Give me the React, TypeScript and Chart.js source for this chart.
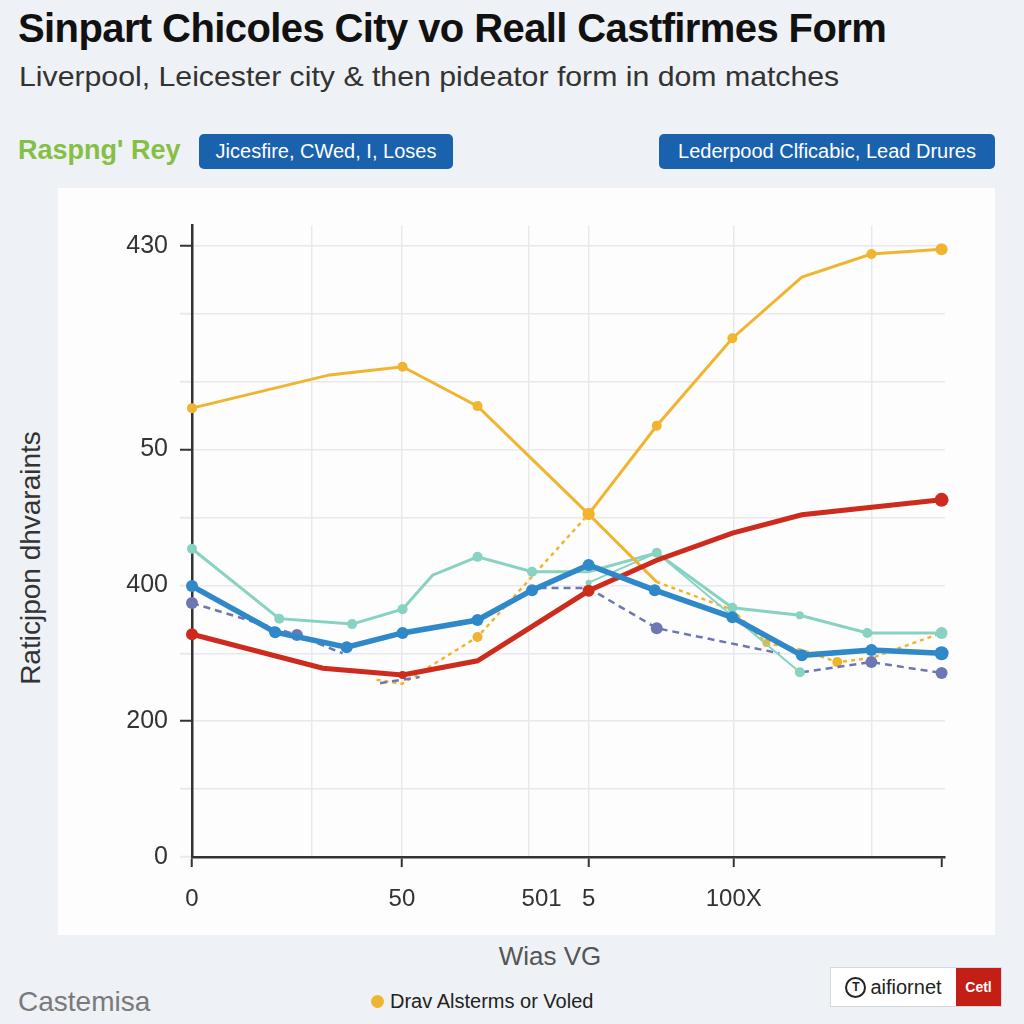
import React, { useEffect, useRef } from "react";
import { Chart, registerables } from "chart.js";

Chart.register(...registerables);

// ---------- data (x in match units, y in rating units) ----------
const orangeAX = [0, 2.02, 3.09, 4.19, 5.82, 6.82];
const orangeAY = [6.61, 7.1, 7.22, 6.64, 5.05, 4.05];
const orangeAR = [5, 0, 5, 5, 6, 0];

const orangeBX = [5.82, 6.82, 7.93, 8.95, 9.97, 11];
const orangeBY = [5.05, 6.35, 7.64, 8.54, 8.88, 8.95];
const orangeBR = [6, 5, 5, 0, 5, 6];

const orangeDotX = [2.71, 3.08, 4.19, 5.82, 6.82, 7.93, 8.43, 8.95, 9.47, 9.97, 11];
const orangeDotY = [2.61, 2.55, 3.24, 5.05, 4.05, 3.64, 3.15, 3.05, 2.87, 2.93, 3.3];
const orangeDotR = [0, 0, 5, 0, 0, 0, 4, 0, 5, 0, 0];

const redX = [0, 1.92, 3.09, 4.19, 5.82, 6.82, 7.93, 8.95, 11];
const redY = [3.28, 2.78, 2.68, 2.89, 3.92, 4.37, 4.77, 5.04, 5.26];
const redR = [6, 0, 4, 0, 6, 0, 0, 0, 7];

const tealX = [0, 1.28, 2.35, 3.09, 3.53, 4.19, 4.99, 5.82, 6.82, 7.93, 8.92, 9.91, 11];
const tealY = [4.54, 3.51, 3.43, 3.65, 4.15, 4.42, 4.2, 4.2, 4.48, 3.67, 3.56, 3.3, 3.3];
const tealR = [5, 5, 5, 5, 0, 5, 5, 0, 5, 5, 4, 5, 6];

const teal2X = [5.82, 6.82, 8.92];
const teal2Y = [4.04, 4.48, 2.72];
const teal2R = [3, 0, 5];

const blueX = [0, 1.22, 2.27, 3.09, 4.19, 4.99, 5.82, 6.79, 7.93, 8.95, 9.97, 11];
const blueY = [3.99, 3.31, 3.09, 3.3, 3.49, 3.93, 4.3, 3.93, 3.53, 2.97, 3.05, 3.0];
const blueR = [6, 6, 6, 6, 6, 6, 6, 6, 6, 6, 6, 7];

const purpleX = [0, 1.54, 2.21, 2.5, 2.76, 3.34, 4.5, 5.1, 5.82, 6.82, 8.62, 8.8, 8.95, 9.97, 11];
const purpleY: (number | null)[] = [3.74, 3.27, 3.0, null, 2.56, 2.65, null, 3.96, 3.96, 3.37, 3.0, null, 2.72, 2.87, 2.71];
const purpleR = [6, 6, 0, 0, 0, 0, 0, 0, 0, 6, 0, 0, 0, 6, 6];

const yTickValues = [0, 1, 2, 3, 4, 5, 6, 7, 8, 9];
const yTickLabels: Record<number, string> = { 0: "0", 2: "200", 4: "400", 6: "50", 9: "430" };

const xTickValues = [0, 1.76, 3.08, 4.94, 5.13, 5.82, 7.95, 9.97, 11];
const xTickLabels: Record<string, string> = { "0": "0", "3.08": "50", "5.13": "501", "5.82": "5", "7.95": "100X" };
const xGridValues = [1.76, 3.08, 4.94, 5.82, 7.95, 9.97];
const xTickMarkValues = [0, 3.08, 5.82, 7.95, 11];

const ORANGE = "#f1b42f";
const RED = "#cc2b1e";
const TEAL = "#87d2c1";
const BLUE = "#2f88c8";
const PURPLE = "#6d78b2";
const GRID = "#e7e9ec";
const AXIS = "#333333";

function pts(xs: number[], ys: (number | null)[]) {
  return xs.map((x, i) => ({ x, y: ys[i] }));
}

function ds(label: string, xs: number[], ys: (number | null)[], radii: number[], color: string, width: number, dash: number[] = [], order = 0) {
  return {
    label,
    data: pts(xs, ys),
    borderColor: color,
    backgroundColor: color,
    borderWidth: width,
    borderDash: dash,
    pointRadius: radii,
    pointBorderWidth: 0,
    pointBackgroundColor: color,
    tension: 0,
    spanGaps: false,
    clip: false as const,
    order,
  };
}

function LineChart() {
  const ref = useRef<HTMLCanvasElement | null>(null);
  useEffect(() => {
    if (!ref.current) return;
    const chart = new Chart(ref.current, {
      type: "line",
      data: {
        datasets: [
          ds("Orange dotted", orangeDotX, orangeDotY, orangeDotR, ORANGE, 2.5, [4, 4], 6),
          ds("Purple", purpleX, purpleY, purpleR, PURPLE, 2.5, [7, 5], 5),
          ds("Teal 2", teal2X, teal2Y, teal2R, TEAL, 2, [], 4),
          ds("Teal", tealX, tealY, tealR, TEAL, 3, [], 3),
          ds("Orange A", orangeAX, orangeAY, orangeAR, ORANGE, 3, [], 2),
          ds("Orange B", orangeBX, orangeBY, orangeBR, ORANGE, 3, [], 2),
          ds("Red", redX, redY, redR, RED, 5, [], 1),
          ds("Blue", blueX, blueY, blueR, BLUE, 5.5, [], 0),
        ],
      },
      options: {
        animation: false,
        responsive: true,
        maintainAspectRatio: false,
        devicePixelRatio: 1,
        layout: { padding: { top: 37.5, right: 50, left: 0, bottom: 0 } },
        plugins: { legend: { display: false }, tooltip: { enabled: false } },
        scales: {
          x: {
            type: "linear",
            min: 0,
            max: 11.05,
            afterBuildTicks: (scale: any) => {
              scale.ticks = xTickValues.map((v) => ({ value: v }));
            },
            afterFit: (scale: any) => {
              scale.height = 78;
            },
            ticks: {
              autoSkip: false,
              maxRotation: 0,
              padding: 18,
              color: "#333",
              font: { family: "Liberation Sans, Arial, sans-serif", size: 24 },
              callback: (v: any) => xTickLabels[String(v)] ?? "",
            },
            grid: {
              color: (c: any) => (xGridValues.includes(c.tick?.value) ? GRID : "transparent"),
              tickColor: (c: any) => (xTickMarkValues.includes(c.tick?.value) ? AXIS : "transparent"),
              tickLength: 10,
              tickWidth: 2,
              lineWidth: 1.5,
            },
            border: { display: true, color: AXIS, width: 2.5 },
          },
          y: {
            type: "linear",
            min: 0,
            max: 9.3,
            afterBuildTicks: (scale: any) => {
              scale.ticks = yTickValues.map((v) => ({ value: v }));
            },
            afterFit: (scale: any) => {
              scale.width = 134;
            },
            ticks: {
              autoSkip: false,
              padding: 12,
              color: "#333",
              font: { family: "Liberation Sans, Arial, sans-serif", size: 25 },
              callback: (v: any) => yTickLabels[v as number] ?? "",
            },
            grid: {
              color: (c: any) => (c.tick?.value === 0 ? "transparent" : GRID),
              tickColor: (c: any) => (yTickLabels[c.tick?.value] !== undefined && c.tick?.value !== 0 && c.tick?.value !== 4 ? AXIS : GRID),
              tickLength: 12,
              tickWidth: 2,
              lineWidth: 1.5,
            },
            border: { display: true, color: AXIS, width: 2.5 },
          },
        },
      },
    });
    return () => chart.destroy();
  }, []);
  return <canvas ref={ref} />;
}

const font = "Liberation Sans, Arial, sans-serif";

export default function App() {
  return (
    <div
      style={{
        position: "absolute",
        left: 0,
        top: 0,
        width: 1024,
        height: 1024,
        background: "#eef1f5",
        fontFamily: font,
        overflow: "hidden",
      }}
    >
      <div
        style={{
          position: "absolute",
          left: 18,
          top: 6,
          fontSize: 40,
          fontWeight: 700,
          color: "#111",
          whiteSpace: "nowrap",
          letterSpacing: -0.6,
        }}
      >
        Sinpart Chicoles City vo Reall Castfirmes Form
      </div>
      <div
        style={{
          position: "absolute",
          left: 19,
          top: 61,
          fontSize: 28,
          color: "#333",
          whiteSpace: "nowrap",
          transform: "scaleX(1.08)",
          transformOrigin: "left center",
        }}
      >
        Liverpool, Leicester city &amp; then pideator form in dom matches
      </div>
      <div
        style={{
          position: "absolute",
          left: 18,
          top: 135,
          fontSize: 27,
          fontWeight: 700,
          color: "#86bf45",
          whiteSpace: "nowrap",
        }}
      >
        Raspng' Rey
      </div>
      <div
        style={{
          position: "absolute",
          left: 199,
          top: 134,
          width: 254,
          height: 35,
          background: "#1a62ae",
          borderRadius: 5,
          color: "#fff",
          fontSize: 20,
          display: "flex",
          alignItems: "center",
          justifyContent: "center",
          whiteSpace: "nowrap",
        }}
      >
        Jicesfire, CWed, I, Loses
      </div>
      <div
        style={{
          position: "absolute",
          left: 659,
          top: 134,
          width: 336,
          height: 35,
          background: "#1a62ae",
          borderRadius: 5,
          color: "#fff",
          fontSize: 20,
          display: "flex",
          alignItems: "center",
          justifyContent: "center",
          whiteSpace: "nowrap",
        }}
      >
        Lederpood Clficabic, Lead Drures
      </div>

      <div
        style={{
          position: "absolute",
          left: 58,
          top: 188,
          width: 937,
          height: 747,
          background: "#fdfdfd",
        }}
      >
        <LineChart />
      </div>

      <div
        style={{
          position: "absolute",
          left: 31,
          top: 558,
          transform: "translate(-50%, -50%) rotate(-90deg)",
          fontSize: 28,
          color: "#333",
          whiteSpace: "nowrap",
        }}
      >
        Raticjpon dhvaraints
      </div>

      <div
        style={{
          position: "absolute",
          left: 550,
          top: 956,
          transform: "translate(-50%, -50%)",
          fontSize: 26,
          color: "#555",
          whiteSpace: "nowrap",
        }}
      >
        Wias VG
      </div>

      <div
        style={{
          position: "absolute",
          left: 18,
          top: 986,
          fontSize: 28,
          color: "#7a7a7a",
          whiteSpace: "nowrap",
        }}
      >
        Castemisa
      </div>

      <div
        style={{
          position: "absolute",
          left: 371,
          top: 990,
          display: "flex",
          alignItems: "center",
          fontSize: 20,
          color: "#222",
          whiteSpace: "nowrap",
        }}
      >
        <span
          style={{
            display: "inline-block",
            width: 13,
            height: 13,
            borderRadius: "50%",
            background: ORANGE,
            marginRight: 6,
          }}
        />
        Drav Alsterms or Voled
      </div>

      <div
        style={{
          position: "absolute",
          left: 830,
          top: 967,
          width: 172,
          height: 40,
          background: "#fff",
          border: "1px solid #d8d8d8",
          display: "flex",
          boxSizing: "border-box",
        }}
      >
        <div
          style={{
            flex: 1,
            display: "flex",
            alignItems: "center",
            justifyContent: "center",
            fontSize: 20,
            color: "#222",
            whiteSpace: "nowrap",
          }}
        >
          <span
            style={{
              display: "inline-flex",
              width: 17,
              height: 17,
              borderRadius: "50%",
              border: "2px solid #222",
              alignItems: "center",
              justifyContent: "center",
              fontSize: 12,
              fontWeight: 700,
              marginRight: 4,
            }}
          >
            T
          </span>
          aifiornet
        </div>
        <div
          style={{
            width: 45,
            background: "#c41f17",
            color: "#fff",
            fontWeight: 700,
            fontSize: 14,
            display: "flex",
            alignItems: "center",
            justifyContent: "center",
          }}
        >
          Cetl
        </div>
      </div>
    </div>
  );
}
